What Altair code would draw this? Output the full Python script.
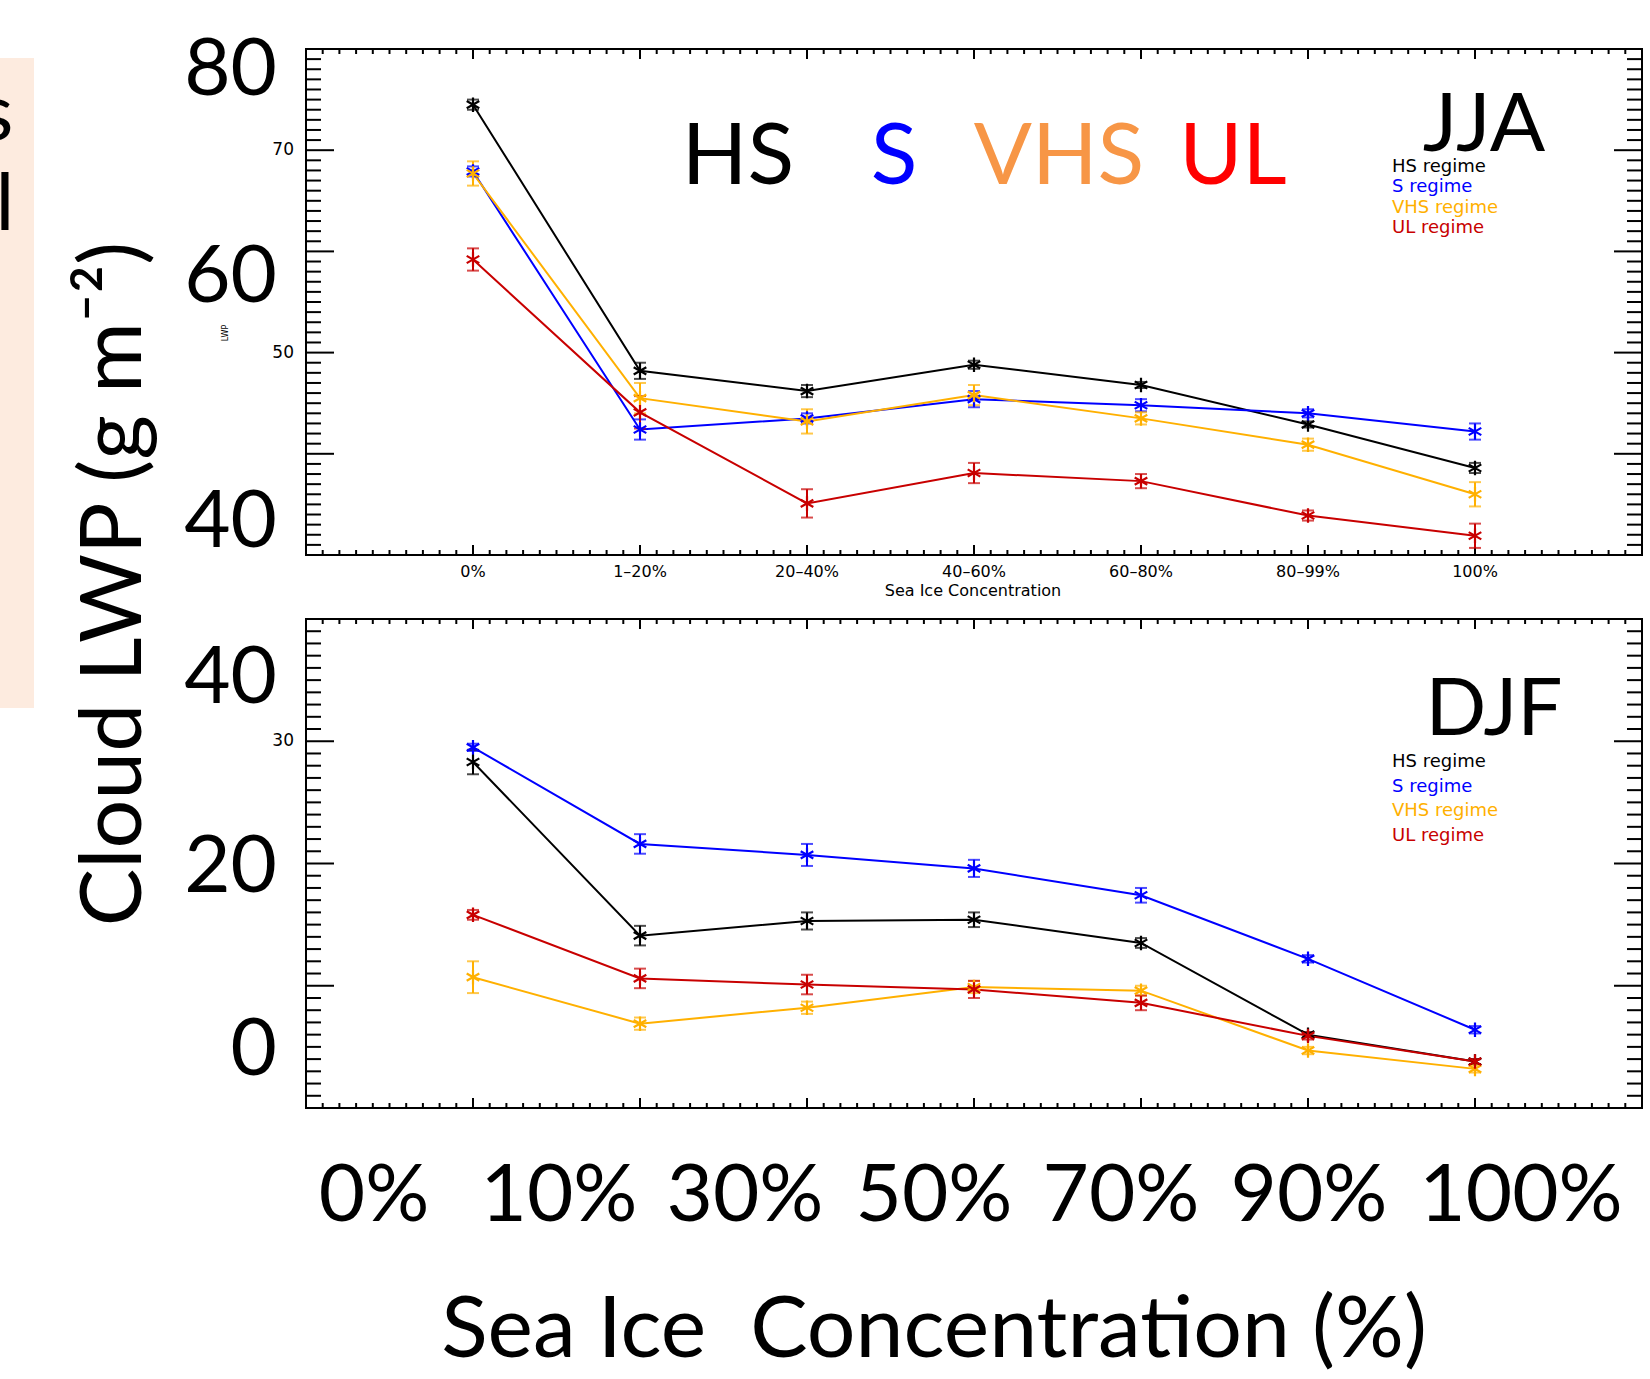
import altair as alt
import pandas as pd

# ---------------- data ----------------
categories = ["0%", "1–20%", "20–40%", "40–60%", "60–80%", "80–99%", "100%"]
positions = [1, 2, 3, 4, 5, 6, 7]
regimes = ["HS", "S", "VHS", "UL"]
regime_colors = ["#000000", "#0000FF", "#FFB000", "#C80000"]

# JJA (top panel)
jja_hs = [74.5, 48.2, 46.2, 48.8, 46.8, 42.9, 38.6]
jja_s = [67.9, 42.4, 43.5, 45.4, 44.8, 44.0, 42.2]
jja_vhs = [67.7, 45.5, 43.2, 45.8, 43.5, 40.9, 36.0]
jja_ul = [59.2, 44.1, 35.1, 38.1, 37.3, 33.9, 31.9]
jja_hs_err = [0.5, 0.8, 0.6, 0.4, 0.3, 0.3, 0.5]
jja_s_err = [0.5, 1.0, 0.5, 0.8, 0.6, 0.4, 0.8]
jja_vhs_err = [1.2, 1.5, 1.2, 1.0, 0.6, 0.6, 1.2]
jja_ul_err = [1.1, 1.6, 1.4, 1.0, 0.7, 0.5, 1.2]

# DJF (bottom panel)
djf_hs = [28.3, 14.1, 15.3, 15.4, 13.5, 6.0, 3.8]
djf_s = [29.5, 21.6, 20.7, 19.6, 17.4, 12.2, 6.4]
djf_vhs = [10.7, 6.9, 8.2, 9.9, 9.6, 4.7, 3.2]
djf_ul = [15.8, 10.6, 10.1, 9.7, 8.6, 5.9, 3.8]
djf_hs_err = [1.0, 0.8, 0.7, 0.6, 0.4, 0.2, 0.2]
djf_s_err = [0.3, 0.8, 0.9, 0.7, 0.6, 0.3, 0.3]
djf_vhs_err = [1.3, 0.5, 0.5, 0.5, 0.4, 0.3, 0.3]
djf_ul_err = [0.4, 0.8, 0.8, 0.7, 0.6, 0.3, 0.2]

top_ylabels = [70, 50]
bot_ylabels = [30]
big_x_labels = ["0%", "10%", "30%", "50%", "70%", "90%", "100%"]
legend_labels = ["HS regime", "S regime", "VHS regime", "UL regime"]

# ---------------- layout (pixels) ----------------
W, H = 1650, 1379
L, R = 306, 1642
TOP_T, TOP_B = 49, 555
BOT_T, BOT_B = 619, 1108
IDL_FONT = "DejaVu Sans"
BIG_FONT = "Lato"

xs = alt.Scale(domain=[0, 8], range=[L, R], nice=False, zero=False)
ys_top = alt.Scale(domain=[30, 80], range=[TOP_B, TOP_T], nice=False, zero=False)
ys_bot = alt.Scale(domain=[0, 40], range=[BOT_B, BOT_T], nice=False, zero=False)
cs = alt.Scale(domain=regimes, range=regime_colors)

ASTER = "M0,-1L0,1M-0.87,-0.5L0.87,0.5M-0.87,0.5L0.87,-0.5"


def series_table(vals, errs):
    rows = []
    for r, v_list, e_list in zip(regimes, vals, errs):
        for p, v, e in zip(positions, v_list, e_list):
            rows.append(dict(pos=p, regime=r, value=v, lo=v - e, hi=v + e))
    return pd.DataFrame(rows)


def panel(df, ys, vmin, vmax, ptop, pbot):
    X = alt.X("pos:Q", scale=xs, axis=None)
    C = alt.Color("regime:N", scale=cs, legend=None)
    base = alt.Chart(df)
    layers = []
    # frame
    frame_df = pd.DataFrame({"x0": [0], "x1": [8], "y0": [vmin], "y1": [vmax]})
    layers.append(
        alt.Chart(frame_df).mark_rect(filled=False, color="black", strokeWidth=2).encode(
            x=alt.X("x0:Q", scale=xs, axis=None), x2="x1:Q",
            y=alt.Y("y0:Q", scale=ys, axis=None), y2="y1:Q")
    )
    # inward ticks on all four sides
    ymaj = pd.DataFrame({"v": [v for v in range(vmin, vmax + 1) if v % 10 == 0]})
    ymin_ = pd.DataFrame({"v": [v for v in range(vmin, vmax + 1) if v % 10 != 0]})
    xmaj = pd.DataFrame({"v": positions})
    xmin_ = pd.DataFrame({"v": [i / 10 for i in range(1, 80) if i % 10 != 0]})
    for d, ln in [(ymaj, 28), (ymin_, 15)]:
        layers.append(alt.Chart(d).mark_rule(color="black", strokeWidth=2).encode(
            y=alt.Y("v:Q", scale=ys, axis=None), x=alt.value(L), x2=alt.value(L + ln)))
        layers.append(alt.Chart(d).mark_rule(color="black", strokeWidth=2).encode(
            y=alt.Y("v:Q", scale=ys, axis=None), x=alt.value(R), x2=alt.value(R - ln)))
    for d, ln in [(xmaj, 10), (xmin_, 5)]:
        layers.append(alt.Chart(d).mark_rule(color="black", strokeWidth=2).encode(
            x=alt.X("v:Q", scale=xs, axis=None), y=alt.value(pbot), y2=alt.value(pbot - ln)))
        layers.append(alt.Chart(d).mark_rule(color="black", strokeWidth=2).encode(
            x=alt.X("v:Q", scale=xs, axis=None), y=alt.value(ptop), y2=alt.value(ptop + ln)))
    # data
    layers.append(base.mark_line(strokeWidth=2).encode(
        x=X, y=alt.Y("value:Q", scale=ys, axis=None), color=C, detail="regime:N"))
    layers.append(base.mark_rule(strokeWidth=2).encode(
        x=X, y=alt.Y("lo:Q", scale=ys, axis=None), y2="hi:Q", color=C))
    layers.append(base.mark_tick(orient="horizontal", size=12, thickness=2).encode(
        x=X, y=alt.Y("lo:Q", scale=ys, axis=None), color=C))
    layers.append(base.mark_tick(orient="horizontal", size=12, thickness=2).encode(
        x=X, y=alt.Y("hi:Q", scale=ys, axis=None), color=C))
    layers.append(base.mark_point(shape=ASTER, size=210, filled=False, strokeWidth=2.2, opacity=1).encode(
        x=X, y=alt.Y("value:Q", scale=ys, axis=None), color=C))
    return layers


def txt(t, x, y, size, color="black", font=BIG_FONT, align="center", baseline="alphabetic", angle=None, weight="normal"):
    kw = dict(align=align, baseline=baseline, font=font, fontSize=size, color=color, fontWeight=weight)
    if angle is not None:
        kw["angle"] = angle
    return alt.Chart(pd.DataFrame({"t": [t]})).mark_text(**kw).encode(
        text="t:N", x=alt.value(x), y=alt.value(y))


# ---------------- top panel ----------------
df_top = series_table([jja_hs, jja_s, jja_vhs, jja_ul], [jja_hs_err, jja_s_err, jja_vhs_err, jja_ul_err])
top_layers = panel(df_top, ys_top, 30, 80, TOP_T, TOP_B)
top_layers.append(
    alt.Chart(pd.DataFrame({"v": top_ylabels, "t": [str(v) for v in top_ylabels]})).mark_text(
        align="right", baseline="middle", font=IDL_FONT, fontSize=17, color="black").encode(
        y=alt.Y("v:Q", scale=ys_top, axis=None), x=alt.value(294), text="t:N"))
top_layers.append(
    alt.Chart(pd.DataFrame({"pos": positions, "cat": categories})).mark_text(
        align="center", baseline="middle", font=IDL_FONT, fontSize=16, color="black").encode(
        x=alt.X("pos:Q", scale=xs, axis=None), y=alt.value(572), text="cat:N"))
top_chart = alt.layer(*top_layers)

# ---------------- bottom panel ----------------
df_bot = series_table([djf_hs, djf_s, djf_vhs, djf_ul], [djf_hs_err, djf_s_err, djf_vhs_err, djf_ul_err])
bot_layers = panel(df_bot, ys_bot, 0, 40, BOT_T, BOT_B)
bot_layers.append(
    alt.Chart(pd.DataFrame({"v": bot_ylabels, "t": [str(v) for v in bot_ylabels]})).mark_text(
        align="right", baseline="middle", font=IDL_FONT, fontSize=17, color="black").encode(
        y=alt.Y("v:Q", scale=ys_bot, axis=None), x=alt.value(294), text="t:N"))
bot_chart = alt.layer(*bot_layers)

# ---------------- annotations ----------------
ann = []
# pink side box with text clipped at the left edge
ann.append(alt.Chart(pd.DataFrame({"a": [0]})).mark_rect(color="#FDEBDF").encode(
    x=alt.value(0), x2=alt.value(34), y=alt.value(58), y2=alt.value(708)))
ann.append(txt("s", -4, 140, 80))
ann.append(txt("l", 5, 230, 80))

# IDL small texts
ann.append(txt("Sea Ice Concentration", 973, 596, 16, font=IDL_FONT))
ann.append(txt("LWP", 226, 333, 8, font=IDL_FONT, angle=270, baseline="middle"))
for i, (lab, col) in enumerate(zip(legend_labels, regime_colors)):
    ann.append(txt(lab, 1392, 167 + 20.3 * i, 18, color=col, font=IDL_FONT, align="left", baseline="middle"))
    ann.append(txt(lab, 1392, 762 + 24.5 * i, 18, color=col, font=IDL_FONT, align="left", baseline="middle"))

# big overlay labels
for t, y in [("80", 95), ("60", 302), ("40", 547), ("40", 703), ("20", 892), ("0", 1075)]:
    ann.append(txt(t, 277, y, 80, align="right"))
for t, x in zip(big_x_labels, [374, 559, 745, 934, 1121, 1309, 1521]):
    ann.append(txt(t, x, 1221, 80))
ann.append(txt("Sea Ice\u00a0 Concentration (%)", 934, 1357, 86))
ann.append(txt("Cloud LWP (g m⁻²)", 141, 584, 86, angle=270))
for t, x, col in [("HS", 738, "#000000"), ("S", 894, "#0000FF"), ("VHS", 1059, "#F79646"), ("UL", 1233, "#FF0000")]:
    ann.append(txt(t, x, 184, 86, color=col))
ann.append(txt("JJA", 1484, 151, 82))
ann.append(txt("DJF", 1494, 735, 80))

chart = alt.layer(top_chart, bot_chart, *ann).resolve_scale(y="independent").properties(
    width=W, height=H, autosize=alt.AutoSizeParams(type="none"), padding=0,
    background="white").configure_view(strokeWidth=0)

chart.save("out.html", embed_options={"renderer": "svg", "actions": False})
